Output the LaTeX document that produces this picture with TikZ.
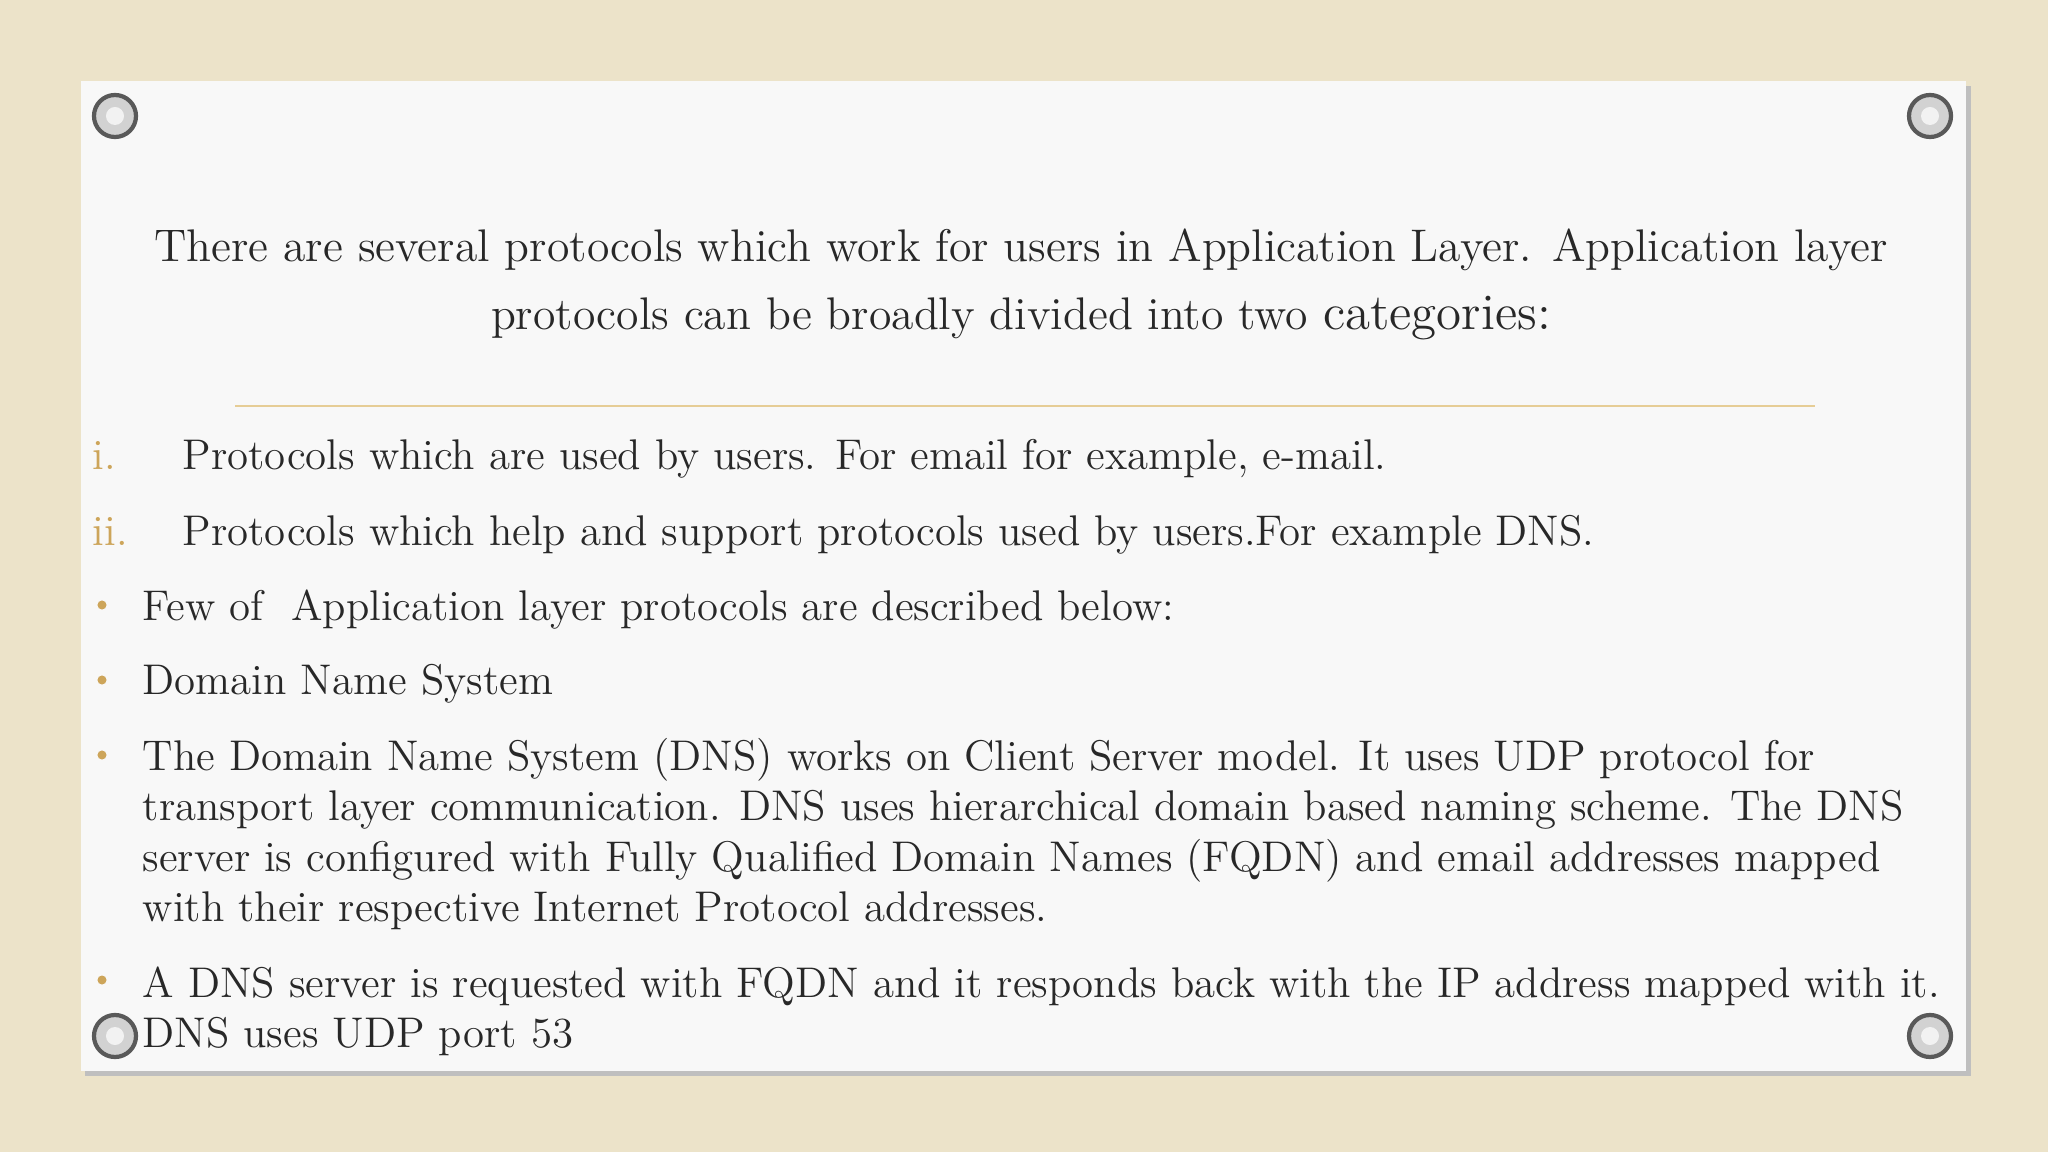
\documentclass[tikz,border=0pt]{standalone}
\definecolor{canvas}{RGB}{236,227,201}
\definecolor{paper}{RGB}{248,248,248}
\definecolor{ink}{RGB}{40,40,40}
\definecolor{gold}{RGB}{205,165,90}
\definecolor{rulec}{RGB}{230,205,150}
\tikzset{
 txt/.style={anchor=base west,inner sep=0pt,text=ink,font=\fontsize{12.2}{14}\selectfont},
 head/.style={anchor=base,inner sep=0pt,text=ink,font=\fontsize{13}{15}\selectfont},
 numlbl/.style={anchor=base west,inner sep=0pt,text=gold,font=\fontsize{12.2}{14}\selectfont},
 screw/.style={circle,minimum size=0.42cm,inner sep=0pt,draw=gray!70!black,line width=1.2pt,fill=gray!35},
 bul/.style={circle,fill=gold,inner sep=0pt,minimum size=0.09cm}
}
\begin{document}
\begin{tikzpicture}[x=0.01cm,y=-0.01cm]
\useasboundingbox (0,0) rectangle (2048,1152);
\fill[canvas] (0,0) rectangle (2048,1152);
\fill[black!25] (85,86) rectangle (1971,1076);
\fill[paper] (81,81) rectangle (1966,1071);
\foreach \n/\x/\y in {s1/115/116,s2/1930/116,s3/115/1036,s4/1930/1036}{
 \node[screw] (\n) at (\x,\y) {};
 \fill[gray!10] (\x,\y) circle (0.09cm);
}
\node[head] (h1) at (1021,262) {There are several protocols which work for users in Application Layer. Application layer};
\node[head] (h2) at (1021,330) {protocols can be broadly divided into two {\fontsize{14.5}{16}\selectfont categories:}};
\draw[rulec,line width=0.8pt] (235,406) -- (1815,406);
\node[numlbl] (m1) at (92,470) {i.};
\node[txt] (t1) at (182,470) {Protocols which are used by users. For email for example, e-mail.};
\node[numlbl] (m2) at (92,545) {ii.};
\node[txt] (t2) at (182,545) {Protocols which help and support protocols used by users.For example DNS.};
\foreach \y in {605,680,755,980}{\node[bul] at (102,\y) {};}
\node[txt] (b1) at (142,620) {Few of\ \ Application layer protocols are described below:};
\node[txt] (b2) at (142,695) {Domain Name System};
\node[txt] (b3) at (142,770) {The Domain Name System (DNS) works on Client Server model. It uses UDP protocol for};
\node[txt] (b3b) at (142,820) {transport layer communication. DNS uses hierarchical domain based naming scheme. The DNS};
\node[txt] (b3c) at (142,871) {server is configured with Fully Qualified Domain Names (FQDN) and email addresses mapped};
\node[txt] (b3d) at (142,921) {with their respective Internet Protocol addresses.};
\node[txt] (b4) at (142,997) {A DNS server is requested with FQDN and it responds back with the IP address mapped with it.};
\node[txt] (b4b) at (142,1047) {DNS uses UDP port 53};
\end{tikzpicture}
\end{document}
